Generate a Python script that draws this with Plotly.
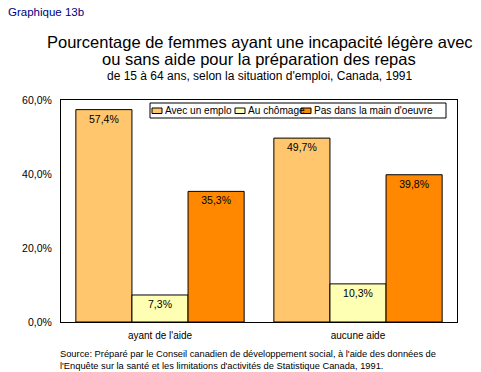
import plotly.graph_objects as go

categories = ["ayant de l'aide", "aucune aide"]
series_names = ["Avec un emplo", "Au chômage", "Pas dans la main d'oeuvre"]
avec_emploi = [57.4, 49.7]
au_chomage = [7.3, 10.3]
pas_main_oeuvre = [35.3, 39.8]
tick_vals = [0, 20, 40, 60]
tick_text = ["0,0%", "20,0%", "40,0%", "60,0%"]

colors = ["#FFC66E", "#FFFFB4", "#FF8800"]
FONT = "Liberation Sans, Arial, sans-serif"

W, H = 481, 372
ML, MR, MT, MB = 61, 24, 100, 50
PW, PH = W - ML - MR, H - MT - MB


def px(x):
    return (x - ML) / PW


def py(y):
    return 1 - (y - MT) / PH


def fmt(v):
    return f"{v:.1f}".replace(".", ",") + "%"


fig = go.Figure()
for name, vals, col in zip(series_names, [avec_emploi, au_chomage, pas_main_oeuvre], colors):
    fig.add_trace(go.Bar(
        x=categories, y=vals, name=name, showlegend=False,
        marker=dict(color=col, line=dict(color="black", width=1)),
        text=[fmt(v) for v in vals],
        textposition="inside", insidetextanchor="end",
        textfont=dict(family=FONT, size=10.5, color="black"),
        constraintext="none",
    ))

# legend box (drawn manually to match the compact original layout)
shapes = [dict(type="rect", xref="paper", yref="paper",
               x0=px(150), x1=px(446), y0=py(118), y1=py(103),
               line=dict(color="black", width=1), fillcolor="white", layer="above")]
annotations = []
sym_x = [152, 235, 301]
for name, col, sx in zip(series_names, colors, sym_x):
    shapes.append(dict(type="rect", xref="paper", yref="paper",
                       x0=px(sx), x1=px(sx + 10), y0=py(113.5), y1=py(108),
                       line=dict(color="black", width=1), fillcolor=col, layer="above"))
    annotations.append(dict(text=name, xref="paper", yref="paper",
                            x=px(sx + 10.5), y=py(110.8), xanchor="left", yanchor="middle",
                            showarrow=False, font=dict(family=FONT, size=10.1, color="black")))

annotations += [
    dict(text="Graphique 13b", xref="paper", yref="paper", x=px(6), y=py(12.5),
         xanchor="left", yanchor="middle", showarrow=False,
         font=dict(family=FONT, size=11.5, color="#000080")),
    dict(text="Pourcentage de femmes ayant une incapacité légère avec", xref="paper", yref="paper",
         x=px(260), y=py(42), xanchor="center", yanchor="middle", showarrow=False,
         font=dict(family=FONT, size=16.5, color="black")),
    dict(text="ou sans aide pour la préparation des repas", xref="paper", yref="paper",
         x=px(259), y=py(59.5), xanchor="center", yanchor="middle", showarrow=False,
         font=dict(family=FONT, size=16.5, color="black")),
    dict(text="de 15 à 64 ans, selon la situation d'emploi, Canada, 1991", xref="paper", yref="paper",
         x=px(260), y=py(76), xanchor="center", yanchor="middle", showarrow=False,
         font=dict(family=FONT, size=12, color="black")),
    dict(text="Source: Préparé par le Conseil canadien de développement social, à l'aide des données de",
         xref="paper", yref="paper", x=px(58), y=py(353.5),
         xanchor="left", yanchor="middle", showarrow=False,
         font=dict(family=FONT, size=9.3, color="black")),
    dict(text="l'Enquête sur la santé et les limitations d'activités de Statistique Canada, 1991.",
         xref="paper", yref="paper", x=px(58), y=py(366),
         xanchor="left", yanchor="middle", showarrow=False,
         font=dict(family=FONT, size=9.3, color="black")),
]

fig.update_layout(
    width=W, height=H,
    margin=dict(l=ML, r=MR, t=MT, b=MB),
    paper_bgcolor="white", plot_bgcolor="white",
    barmode="group", bargap=0.15, bargroupgap=0,
    font=dict(family=FONT, size=10, color="black"),
    showlegend=False,
    xaxis=dict(showline=True, linecolor="black", linewidth=1, mirror=True,
               ticks="", ticklabelstandoff=4,
               tickfont=dict(family=FONT, size=10, color="black")),
    yaxis=dict(range=[0, 60], tickvals=tick_vals, ticktext=tick_text,
               showgrid=False, zeroline=False, showline=True, linecolor="black",
               linewidth=1, mirror=True, ticks="", ticklabelstandoff=6,
               tickfont=dict(family=FONT, size=10.5, color="black")),
    shapes=shapes,
    annotations=annotations,
)

fig.write_html("out.html", config={"displayModeBar": False},
               post_script="document.body.style.margin='0';")
